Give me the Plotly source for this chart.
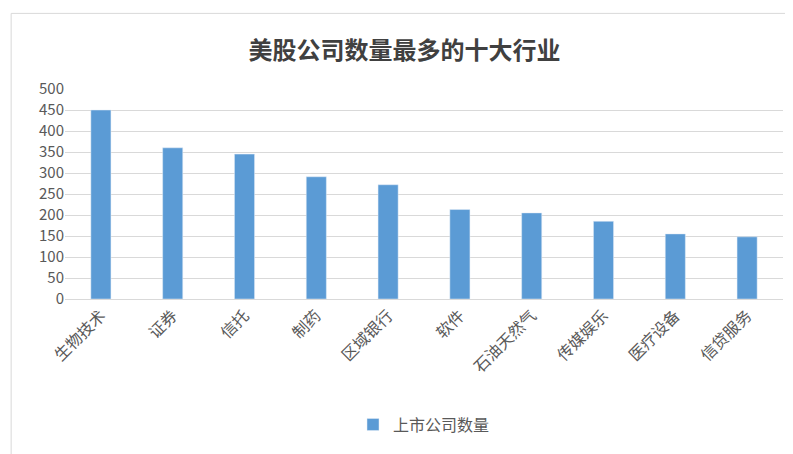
import plotly.graph_objects as go

industries = ["生物技术", "证券", "信托", "制药", "区域银行", "软件", "石油天然气", "传媒娱乐", "医疗设备", "信贷服务"]
counts = [450, 360, 345, 291, 272, 213, 205, 185, 155, 148]
y_ticks = [0, 50, 100, 150, 200, 250, 300, 350, 400, 450, 500]

font_family = "Noto Sans CJK SC"

fig = go.Figure()
fig.add_trace(go.Bar(
    x=industries, y=counts, name="上市公司数量",
    marker=dict(color="#5B9BD5"), showlegend=True
))

fig.update_layout(
    width=793, height=454,
    title=dict(text="<b>美股公司数量最多的十大行业</b>", x=0.5, y=0.925, xanchor="center",
               font=dict(family=font_family, size=24, color="#404040")),
    font=dict(family=font_family, color="#595959"),
    bargap=0.72,
    xaxis=dict(tickangle=-45, tickfont=dict(size=16, color="#595959"), automargin=False,
               showline=True, linecolor="#D9D9D9", ticks=""),
    yaxis=dict(range=[0, 500], tickvals=y_ticks, tickfont=dict(size=15, color="#595959"),
               automargin=False, gridcolor="#D9D9D9", zeroline=False, ticks=""),
    legend=dict(orientation="h", x=0.5, xanchor="center", y=0.045, yref="container",
                yanchor="bottom", font=dict(size=16, color="#595959")),
    plot_bgcolor="white", paper_bgcolor="white",
    margin=dict(l=57, r=18, t=81, b=163),
    shapes=[dict(type="rect", xref="paper", yref="paper", x0=-0.075, x1=1.02, y0=-0.77, y1=1.36,
                 line=dict(color="#D9D9D9", width=1))]
)

fig.write_html("out.html")
